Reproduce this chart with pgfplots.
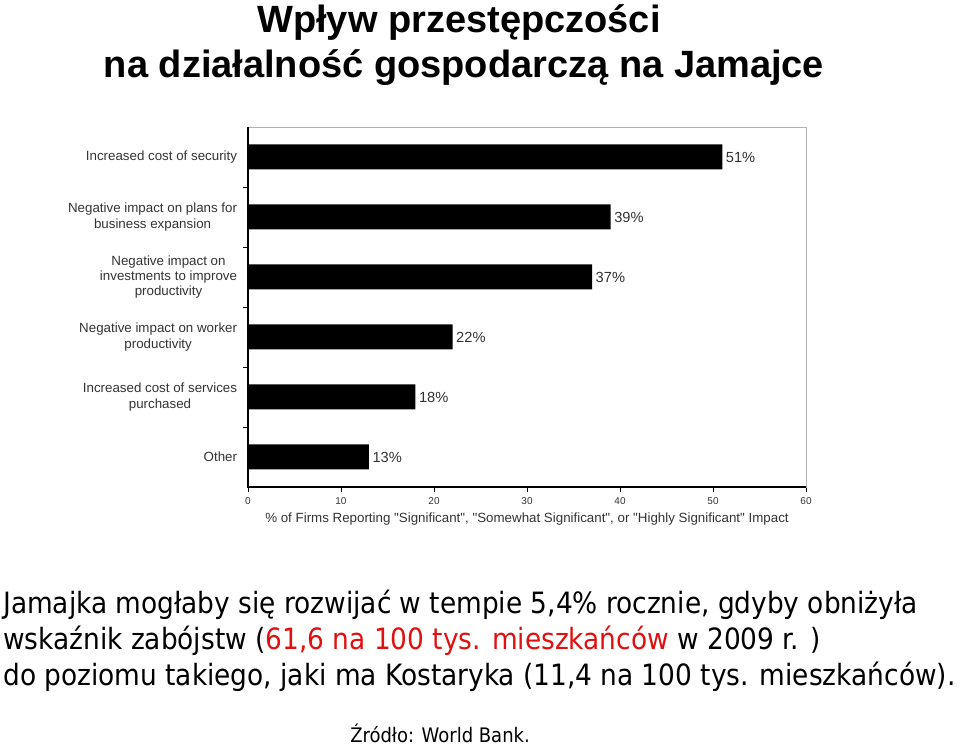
\documentclass[border=0pt]{standalone}
\usepackage{pgfplots}
\pgfplotsset{compat=1.18}
\usepackage{fontspec}
\setmainfont{Liberation Sans}
\newfontfamily\tahoma{DejaVu Sans Condensed}
\newcommand\dq{\XeTeXglyph\numexpr\XeTeXcharglyph"22\relax}
\definecolor{lbl}{HTML}{333333}
\definecolor{redtxt}{HTML}{E01010}
\begin{document}
\begin{tikzpicture}
\useasboundingbox (0,0) rectangle (720pt,561pt);
\begin{axis}[
  at={(186pt,195.75pt)}, anchor=south west,
  scale only axis, width=418.5pt, height=270pt,
  xbar, bar width=18.75pt,
  xmin=0, xmax=60, ymin=-0.5, ymax=5.5,
  xtick={0,10,...,60},
  ytick={0,...,5},
  xtick pos=bottom, ytick pos=left,
  yticklabels={Other, {Increased cost of services\\purchased}, {Negative impact on worker\\productivity}, {Negative impact on\\investments to improve\\productivity}, {Negative impact on plans for\\business expansion}, Increased cost of security},
  minor ytick={0.5,1.5,2.5,3.5,4.5},
  major y tick style={draw=none},
  tick align=outside,
  major tick length=4pt, minor tick length=4pt,
  tick style={black, line width=0.6pt},
  yticklabel style={align=center, font=\fontsize{10}{11.5}\selectfont, text=lbl, inner sep=1pt, xshift=-3pt},
  xticklabel style={font=\fontsize{7.5}{9}\selectfont, text=lbl, /pgf/number format/assume math mode=true},
  xlabel={\% of Firms Reporting \dq Significant\dq, \dq Somewhat Significant\dq, or \dq Highly Significant\dq\ Impact},
  xlabel style={font=\fontsize{10}{12}\selectfont, text=lbl, yshift=0pt},
  axis line style={draw=gray!60, line width=0.6pt},
  nodes near coords={\pgfmathprintnumber{\pgfplotspointmeta}\%},
  nodes near coords style={font=\fontsize{11}{13}\selectfont, text=lbl, anchor=west, inner sep=2.5pt, /pgf/number format/assume math mode=true},
  point meta=x,
  clip=false,
]
\addplot[fill=black, draw=none] coordinates {(13,0) (18,1) (22,2) (37,3) (39,4) (51,5)};
\draw[black, line width=1.1pt] (rel axis cs:0,1) -- (rel axis cs:0,0) -- (rel axis cs:1,0);
\end{axis}
\begin{scope}[x=0.75pt, y=-0.75pt, yshift=561pt]
\node[font=\fontsize{28.5}{32}\selectfont\bfseries, anchor=base] at (459,33) {Wpływ przestępczości};
\node[font=\fontsize{28.5}{32}\selectfont\bfseries, anchor=base] at (464,78) {na działalność gospodarczą na Jamajce};
\node[font=\tahoma\fontsize{22}{26}\selectfont, anchor=base west, inner sep=0pt] at (3,614) {Jamajka mogłaby się rozwijać w tempie 5,4\% rocznie, gdyby obniżyła};
\node[font=\tahoma\fontsize{22}{26}\selectfont, anchor=base west, inner sep=0pt] at (3,650) {wskaźnik zabójstw (\textcolor{redtxt}{61,6 na 100 tys. mieszkańców} w 2009 r. )};
\node[font=\tahoma\fontsize{22}{26}\selectfont, anchor=base west, inner sep=0pt] at (3,686) {do poziomu takiego, jaki ma Kostaryka (11,4 na 100 tys. mieszkańców).};
\node[font=\tahoma\fontsize{15}{18}\selectfont, anchor=base west, inner sep=0pt] at (350,743) {Źródło: World Bank.};
\end{scope}
\end{tikzpicture}
\end{document}
